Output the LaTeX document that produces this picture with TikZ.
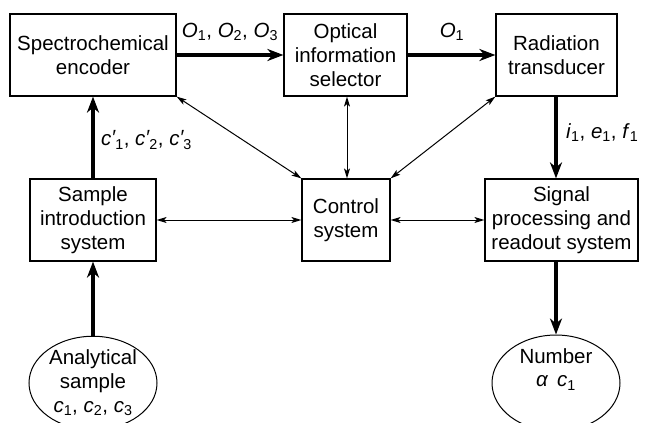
\documentclass[tikz,border=0pt]{standalone}
\usepackage{fontspec}
\setmainfont{Liberation Sans}
\usetikzlibrary{arrows.meta,shapes.geometric}
\newcommand\vs[2]{\textit{#1}\textsubscript{#2}}
\newcommand\vp[2]{\textit{#1}\raisebox{1pt}{\textit{\char"2032}}\kern-0.5pt\textsubscript{#2}}
\begin{document}
\begin{tikzpicture}[x=1pt,y=-1pt,
  every node/.style={font=\fontsize{20.5}{24}\selectfont},
  blk/.style={draw,line width=1.2pt,align=center,inner sep=0pt},
  oval/.style={draw,line width=1pt,ellipse,align=center,inner sep=0pt,minimum width=128pt,minimum height=92pt},
  thick arrow/.style={line width=4pt,-{Stealth[length=16pt,width=12pt,inset=5pt]}},
  thin arrow/.style={line width=1pt,{Stealth[length=10pt,width=6pt,inset=2.5pt]}-{Stealth[length=10pt,width=6pt,inset=2.5pt]}},
  lab/.style={inner sep=0pt}]
\useasboundingbox (0,0) rectangle (646,423);
\node[blk,minimum width=166pt,minimum height=82pt] (enc) at (93,55) {Spectrochemical\\encoder};
\node[blk,minimum width=123pt,minimum height=82pt] (sel) at (345.5,55) {Optical\\information\\selector};
\node[blk,minimum width=121pt,minimum height=82pt] (tra) at (556.5,55) {Radiation\\transducer};
\node[blk,minimum width=126pt,minimum height=82pt] (sam) at (93,220) {Sample\\introduction\\system};
\node[blk,minimum width=88pt,minimum height=82pt] (ctl) at (346,220) {Control\\system};
\node[blk,minimum width=153pt,minimum height=82pt] (sig) at (561.5,220) {Signal\\processing and\\readout system};
\node[oval] (ana) at (93,383) {Analytical\\sample\\\vs{c}{1}, \vs{c}{2}, \vs{c}{3}};
\node[oval] (num) at (556,383) {Number\\[-1pt]\textit{α\, c}\textsubscript{1}\\[6pt]};
\draw[thick arrow] (enc.east) -- (sel.west);
\draw[thick arrow] (sel.east) -- (tra.west);
\draw[thick arrow] (sam.north) -- (enc.south);
\draw[thick arrow] (ana.north) -- (sam.south);
\draw[thick arrow] (tra.south -| 556,0) -- (sig.north -| 556,0);
\draw[thick arrow] (sig.south -| num.north) -- (num.north);
\draw[thin arrow] (enc.south east) -- (ctl.north west);
\draw[thin arrow] (sel.south -| 347,0) -- (ctl.north -| 347,0);
\draw[thin arrow] (tra.south west) -- (ctl.north east);
\draw[thin arrow] (sam.east) -- (ctl.west);
\draw[thin arrow] (ctl.east) -- (sig.west);
\node[lab] (l1) at (230,32) {\vs{O}{1}, \vs{O}{2}, \vs{O}{3}};
\node[lab] (l2) at (452,32) {\vs{O}{1}};
\node[lab,anchor=west] (l3) at (101,140) {\vp{c}{1}, \vp{c}{2}, \vp{c}{3}};
\node[lab,anchor=west] (l4) at (566,133) {\vs{i}{1}, \vs{e}{1}, \vs{f}{1}};
\end{tikzpicture}
\end{document}
